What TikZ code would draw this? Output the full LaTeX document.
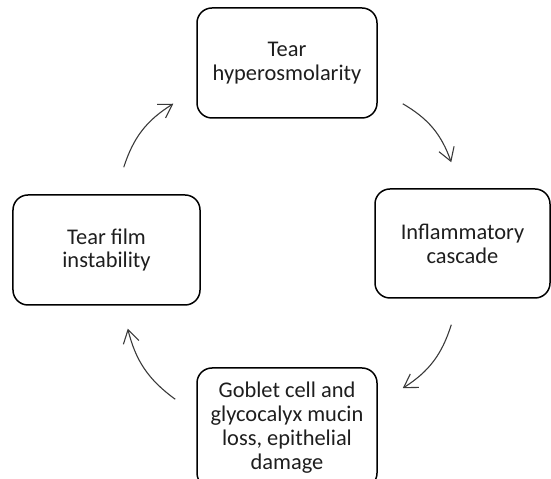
\documentclass[tikz,border=0pt]{standalone}
\usepackage{fontspec}
\setmainfont{Carlito}
\usepackage{tikz}
\usepackage{xcolor}
\usetikzlibrary{arrows.meta}
\definecolor{inkgrey}{HTML}{1E1E1E}
\definecolor{arrowgrey}{HTML}{3A3A3A}

\begin{document}
\begin{tikzpicture}[
  x=1bp, y=1bp,
  every node/.style={rectangle, align=center},
  stage/.style={draw=black, line width=1.5bp, rounded corners=15bp,
    text=inkgrey, font=\fontsize{22.5}{24}\selectfont,
    minimum height=110bp, inner sep=0pt},
  cycarrow/.style={-{Straight Barb[length=13bp, width=16bp, line width=1.1bp]},
    line width=1.1bp, arrowgrey, bend left=20}
]
\useasboundingbox (0,0) rectangle (551,479);

%% The four stages of the cycle
\node[stage, minimum width=180bp] (hyper) at (287,416) {Tear\\hyperosmolarity};
\node[stage, minimum width=175bp, minimum height=109bp] (inflam) at (462.5,235.5) {Inflammatory\\cascade};
\node[stage, minimum width=180bp, minimum height=120bp] (goblet) at (287,51) {Goblet cell and\\glycocalyx mucin\\loss, epithelial\\damage};
\node[stage, minimum width=187bp] (film) at (106.5,229) {Tear film\\instability};

%% Curved arrows between the stages (clockwise)
\draw[cycarrow] ([shift={(25,15)}]hyper.south east) to ([shift={(77,26)}]inflam.north west);
\draw[cycarrow] ([shift={(77,-26)}]inflam.south west) to ([shift={(25,-21)}]goblet.north east);
\draw[cycarrow] ([shift={(-21,-32)}]goblet.north west) to ([shift={(-73,-23)}]film.south east);
\draw[cycarrow] ([shift={(-77,27)}]film.north east) to ([shift={(-23,15)}]hyper.south west);

\end{tikzpicture}
\end{document}
